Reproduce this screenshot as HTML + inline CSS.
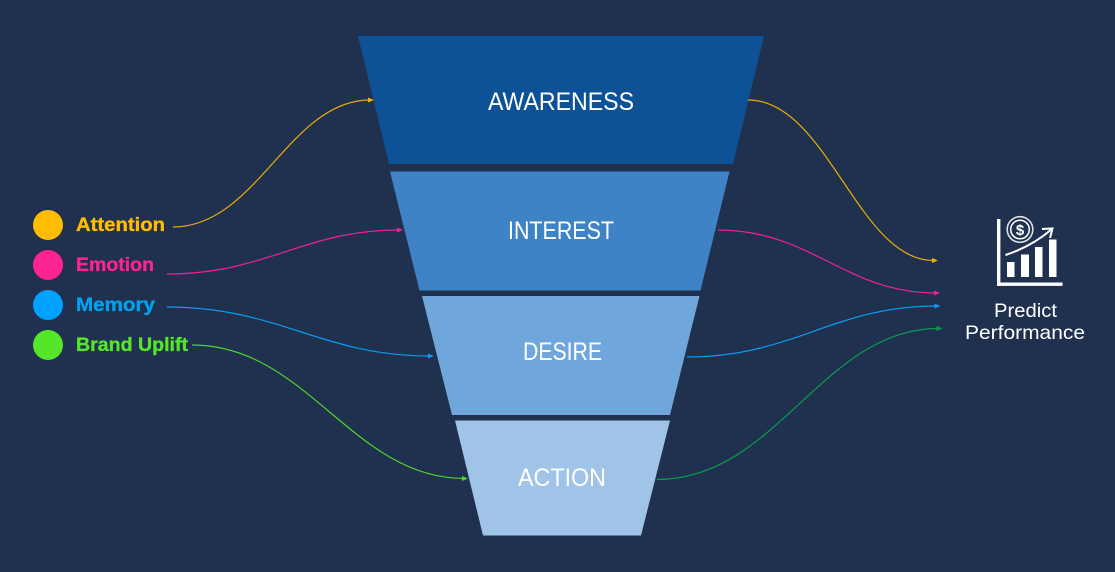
<!DOCTYPE html>
<html>
<head>
<meta charset="utf-8">
<style>
html,body{margin:0;padding:0;background:#20304f;}
svg{display:block;}
text{font-family:"Liberation Sans",sans-serif;}
</style>
</head>
<body>
<svg width="1115" height="572" viewBox="0 0 1115 572" xmlns="http://www.w3.org/2000/svg">
<rect width="1115" height="572" fill="#20304f"/>

<!-- funnel -->
<polygon points="358,36 764,36 733,164 389,164" fill="#0d5296"/>
<polygon points="390,171.5 729.5,171.5 700.5,290.5 419.5,290.5" fill="#3f83c7"/>
<polygon points="422,296 699.5,296 670,415 452,415" fill="#6fa7dc"/>
<polygon points="455,420.5 670,420.5 641,535.5 483,535.5" fill="#9fc4e8"/>

<g fill="#ffffff" font-size="25">
<text x="488" y="110" textLength="146" lengthAdjust="spacingAndGlyphs">AWARENESS</text>
<text x="508" y="239" textLength="106" lengthAdjust="spacingAndGlyphs">INTEREST</text>
<text x="523" y="360" textLength="79" lengthAdjust="spacingAndGlyphs">DESIRE</text>
<text x="518" y="486" textLength="88" lengthAdjust="spacingAndGlyphs">ACTION</text>
</g>

<!-- legend -->
<circle cx="48" cy="225" r="15" fill="#ffbc00"/>
<circle cx="48" cy="265" r="15" fill="#ff2291"/>
<circle cx="48" cy="305" r="15" fill="#00a2ff"/>
<circle cx="48" cy="345" r="15" fill="#55e52a"/>
<g font-size="19.5" font-weight="700" stroke-width="0.35">
<text x="76" y="231" fill="#ffbc00" stroke="#ffbc00" textLength="89" lengthAdjust="spacingAndGlyphs">Attention</text>
<text x="76" y="271" fill="#ff2291" stroke="#ff2291" textLength="78" lengthAdjust="spacingAndGlyphs">Emotion</text>
<text x="76" y="311" fill="#00a2ef" stroke="#00a2ef" textLength="79" lengthAdjust="spacingAndGlyphs">Memory</text>
<text x="76" y="351" fill="#55e52a" stroke="#55e52a" textLength="112" lengthAdjust="spacingAndGlyphs">Brand Uplift</text>
</g>

<!-- connectors -->
<g fill="none" stroke-width="1.2">
<path d="M173,227 C257,227 289,100 370,100" stroke="#e6ae08"/>
<path d="M167,274 C267,274 303,230 399,230" stroke="#f0209a"/>
<path d="M167,307 C279,307 321,356 430,356" stroke="#0a9bf0"/>
<path d="M192,345 C307,345 352,478 464,478.5" stroke="#4fd32c"/>
<path d="M748,100 C827,100 858,260 933,260.5" stroke="#e6ae08"/>
<path d="M718,230 C811,230 846,293 935,293" stroke="#f0209a"/>
<path d="M687,357 C793,357 834,306 936,306" stroke="#0a9bf0"/>
<path d="M657,479.5 C777,479.5 822,329 938,328.5" stroke="#0a9a50"/>
</g>
<g>
<polygon points="374,100 368,97.5 368,102.5" fill="#f0b400"/>
<polygon points="403,230 397,227.5 397,232.5" fill="#f0209a"/>
<polygon points="434,356 428,353.5 428,358.5" fill="#0a9bf0"/>
<polygon points="468,478.5 462,476 462,481" fill="#4fd32c"/>
<polygon points="938,260.5 932,258 932,263" fill="#f0b400"/>
<polygon points="940,293 934,290.5 934,295.5" fill="#f0209a"/>
<polygon points="940.5,306 934.5,303.5 934.5,308.5" fill="#0a9bf0"/>
<polygon points="942.5,328.5 936.5,326 936.5,331" fill="#0a9a50"/>
</g>

<!-- icon -->
<g fill="#ffffff">
<rect x="997" y="219" width="3.4" height="67"/>
<rect x="997" y="282.5" width="65.5" height="3.4"/>
<rect x="1007" y="262" width="7.5" height="15"/>
<rect x="1021" y="254.5" width="8" height="22.5"/>
<rect x="1035" y="247" width="7.5" height="30"/>
<rect x="1049" y="239.5" width="7.5" height="37.5"/>
</g>
<circle cx="1020" cy="229.5" r="12.8" fill="none" stroke="#ffffff" stroke-width="1.6" opacity="0.85"/>
<circle cx="1020" cy="229.5" r="9.3" fill="none" stroke="#ffffff" stroke-width="1.5"/>
<text x="1020" y="235" font-size="15" font-weight="700" fill="#ffffff" text-anchor="middle">$</text>
<path d="M1005.5,255 C1024,249 1038,241 1052,229" fill="none" stroke="#ffffff" stroke-width="2"/>
<path d="M1042,229 L1052.5,228.5 L1050,238" fill="none" stroke="#ffffff" stroke-width="2"/>

<g fill="#ffffff" font-size="19.5">
<text x="994" y="317" textLength="63" lengthAdjust="spacingAndGlyphs">Predict</text>
<text x="965" y="339" textLength="120" lengthAdjust="spacingAndGlyphs">Performance</text>
</g>
</svg>
</body>
</html>
